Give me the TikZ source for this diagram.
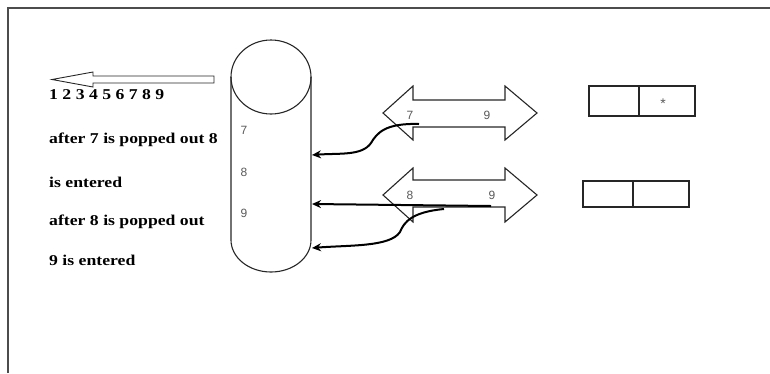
\documentclass[tikz,border=0pt]{standalone}
\usepackage{graphicx}
\usepackage{fontspec}
\setmainfont{Liberation Serif}
\newfontfamily\arialfont{Liberation Sans}
\usetikzlibrary{arrows.meta}
\begin{document}
\begin{tikzpicture}[x=1pt,y=-1pt,
  lbl/.style={anchor=west,inner sep=0pt,font=\fontsize{15}{15}\selectfont\bfseries},
  num/.style={inner sep=0pt,font=\arialfont\fontsize{12}{12}\selectfont,text=black!65},
  outline/.style={draw=black!85,line width=1.1pt},
  boxline/.style={draw=black!85,line width=1.6pt},
  pushline/.style={draw=black,line width=2pt,-{Stealth[length=9pt,width=8pt]}},
  frameline/.style={draw=black!70,line width=1.5pt}
]
\useasboundingbox (0,0) rectangle (770,373);
% frame
\draw[frameline] (8,373) -- (8,8) -- (770,8);

% top-left arrow
\draw[outline,line width=0.9pt] (214,76) -- (93,76) -- (93,72) -- (52,79.5) -- (93,87) -- (93,83) -- (214,83) -- cycle;

% left texts
\node[lbl] (seq) at (49,95) {\scalebox{1.18}[1]{1 2 3 4 5 6 7 8 9}};
\node[lbl] (t1) at (49,140) {\scalebox{1.18}[1]{after 7 is popped out 8}};
\node[lbl] (t2) at (49,182) {\scalebox{1.18}[1]{is entered}};
\node[lbl] (t3) at (49,222) {\scalebox{1.18}[1]{after 8 is popped out}};
\node[lbl] (t4) at (49,260) {\scalebox{1.18}[1]{9 is entered}};

% cylinder
\draw[outline] (271,77) ellipse [x radius=40, y radius=37];
\draw[outline] (231,77) -- (231,240) arc [start angle=180, end angle=0, x radius=40, y radius=32] -- (311,77);
\coordinate (in1) at (312,155);
\coordinate (in2) at (312,204);
\coordinate (in3) at (312,248);
\node[num] (c7) at (244,130) {7};
\node[num] (c8) at (244,172) {8};
\node[num] (c9) at (244,213) {9};

% double arrows
\draw[outline] (383,113) -- (413,86) -- (413,100) -- (505,100) -- (505,86) -- (537,113)
  -- (505,140) -- (505,127) -- (413,127) -- (413,140) -- cycle;
\draw[outline] (383,195) -- (413,168) -- (413,180) -- (505,180) -- (505,168) -- (537,195)
  -- (505,222) -- (505,207) -- (413,207) -- (413,222) -- cycle;
\node[num] (a7) at (410,115) {7};
\node[num] (a9) at (487,115) {9};
\node[num] (b8) at (410,195) {8};
\node[num] (b9) at (492,195) {9};
\coordinate (s1) at (419,124);
\coordinate (s2) at (491,206);
\coordinate (s3) at (444,209);

% push arrows
\draw[pushline] (s1) .. controls (385,123) and (377,133) .. (371,143)
  .. controls (362,156) and (340,153) .. (in1);
\draw[pushline] (s2) -- (in2);
\draw[pushline] (s3) .. controls (412,212) and (404,222) .. (400,232)
  .. controls (390,247) and (350,245) .. (in3);

% boxes
\draw[boxline] (589,86) rectangle (695,116);
\draw[boxline] (639,86) -- (639,116);
\node[num,font=\arialfont\fontsize{14}{14}\selectfont] (star) at (663,104) {*};
\draw[boxline] (583,181) rectangle (689,207);
\draw[boxline] (633,181) -- (633,207);
\end{tikzpicture}
\end{document}
